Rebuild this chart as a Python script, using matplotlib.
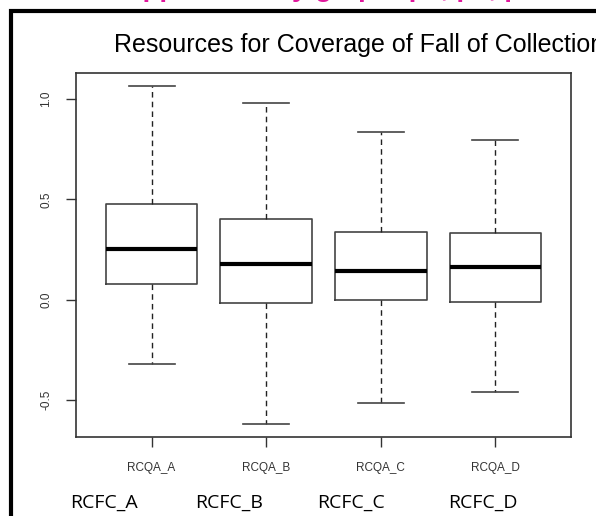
import matplotlib
matplotlib.use("Agg")
import matplotlib.pyplot as plt
from matplotlib.patches import Rectangle

# Box summary statistics per group
groups = ["RCQA_A", "RCQA_B", "RCQA_C", "RCQA_D"]
lower_whisker = [-0.32, -0.617, -0.513, -0.462]
q1 = [0.08, -0.015, 0.0, -0.01]
median = [0.255, 0.177, 0.143, 0.163]
q3 = [0.478, 0.40, 0.34, 0.332]
upper_whisker = [1.063, 0.983, 0.837, 0.798]
yticks = [-0.5, 0.0, 0.5, 1.0]
bottom_labels = ["RCFC_A", "RCFC_B", "RCFC_C", "RCFC_D"]
title = "Resources for Coverage of Fall of Collection"
header = "Supplementary graph: p1, p2, p3"

W, H = 596, 516
fig = plt.figure(figsize=(W / 100, H / 100), dpi=100)
fig.patch.set_facecolor("white")

ax = fig.add_axes([76 / W, 1 - 437 / H, (571 - 76) / W, (437 - 73) / H])

stats = []
for g, lo, a, m, b, hi in zip(groups, lower_whisker, q1, median, q3, upper_whisker):
    stats.append(dict(label=g, whislo=lo, q1=a, med=m, q3=b, whishi=hi, fliers=[]))

positions = list(range(1, len(groups) + 1))
ax.bxp(
    stats,
    positions=positions,
    widths=0.8,
    showfliers=False,
    boxprops=dict(color="#444444", linewidth=1.2),
    medianprops=dict(color="black", linewidth=3),
    whiskerprops=dict(color="#222222", linewidth=1, linestyle=(0, (4, 3))),
    capprops=dict(color="#444444", linewidth=1.2),
    capwidths=0.4,
)

n = len(groups)
ax.set_xlim(0.5 - 0.04 * n, n + 0.5 + 0.04 * n)
ymin, ymax = min(lower_whisker), max(upper_whisker)
pad = 0.04 * (ymax - ymin)
ax.set_ylim(ymin - pad, ymax + pad)

ax.set_xticks(positions)
ax.set_xticklabels(groups, fontsize=8.5, color="#333333", family="Liberation Sans")
ax.set_yticks(yticks)
ax.set_yticklabels([f"{v:.1f}" for v in yticks], fontsize=8.5, color="#333333",
                   family="Liberation Sans", rotation=90, va="center")
ax.tick_params(axis="both", direction="out", length=7, width=1, color="#333333")
ax.tick_params(axis="x", pad=11)
ax.tick_params(axis="y", pad=10)
for s in ax.spines.values():
    s.set_color("#333333")
    s.set_linewidth(1.2)

# Title, left-anchored and running off the right edge
fig.text(114 / W, 1 - 45 / H, title, fontsize=18, family="Liberation Sans",
         color="black", ha="left", va="center")

# Outer frame (left and top edges visible)
fig.patches.append(Rectangle((10.5 / W, -0.2), 2.0, 1 - 10.5 / H + 0.2,
                             transform=fig.transFigure, fill=False,
                             edgecolor="black", linewidth=3))

# Header text above the frame
fig.text(107 / W, 1 + 4 / H, header, fontsize=20, fontweight="bold",
         color="#e0189c", family="Liberation Sans", ha="left", va="baseline")

# Bottom category labels
for lab, x in zip(bottom_labels, [70, 195, 317, 448]):
    fig.text(x / W, 1 - 503 / H, lab, fontsize=14, family="Open Sans",
             color="black", ha="left", va="center")

fig.savefig("out.png", dpi=100, facecolor="white")
